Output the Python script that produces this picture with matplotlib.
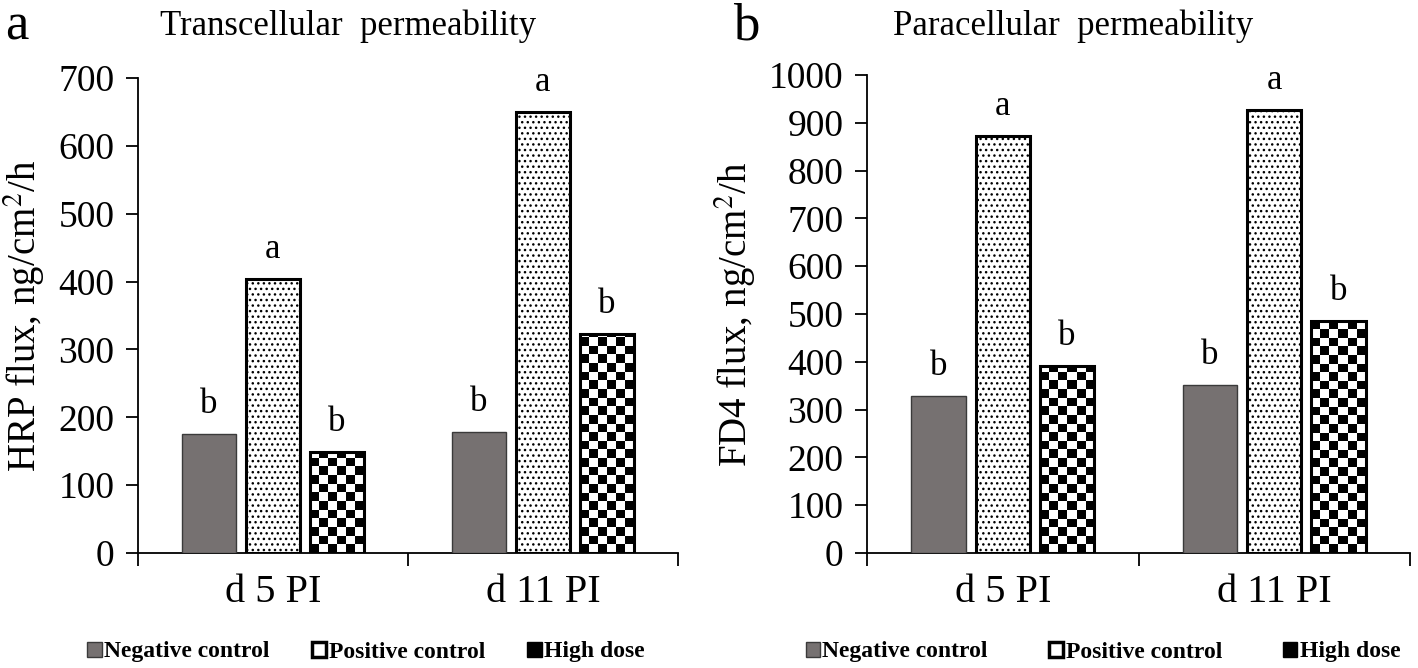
import matplotlib
matplotlib.use("Agg")
import matplotlib.pyplot as plt
from matplotlib.patches import Patch
import numpy as np

plt.rcParams["font.family"] = ["Liberation Serif", "DejaVu Serif"]
plt.rcParams["mathtext.fontset"] = "stix"

days = ["d 5 PI", "d 11 PI"]
groups = ["Negative control", "Positive control", "High dose"]

hrp_flux = {
    "Negative control": [176, 178],
    "Positive control": [404, 650],
    "High dose": [149, 323],
}
fd4_flux = {
    "Negative control": [329, 352],
    "Positive control": [873, 927],
    "High dose": [392, 485],
}
hrp_letters = {
    "Negative control": ["b", "b"],
    "Positive control": ["a", "a"],
    "High dose": ["b", "b"],
}
fd4_letters = {
    "Negative control": ["b", "b"],
    "Positive control": ["a", "a"],
    "High dose": ["b", "b"],
}

W, H = 1418, 668
fig = plt.figure(figsize=(W / 100, H / 100), dpi=100)

BAR_W = 0.2
OFFSETS = [-0.237, 0.0, 0.237]
CELL_PX = 8.6


def checker_fill(ax, bar):
    # checkerboard texture clipped to the bar
    x0, w, h = bar.get_x(), bar.get_width(), bar.get_height()
    (px0, py0), (px1, py1) = ax.transData.transform([(x0, 0), (x0 + w, h)])
    ncol = max(1, int(round((px1 - px0) / CELL_PX)))
    nrow = int(np.ceil((py1 - py0) / CELL_PX))
    dy = h / ((py1 - py0) / CELL_PX)
    grid = np.add.outer(np.arange(nrow), np.arange(ncol)) % 2
    img = ax.imshow(grid, cmap="gray", extent=(x0, x0 + w, 0, nrow * dy),
                    origin="lower", interpolation="nearest", aspect="auto",
                    zorder=2)
    img.set_clip_path(bar)


def panel(rect, data, letters, ymax, ylabel):
    ax = fig.add_axes(rect)
    ax.set_xlim(-0.5, 1.5)
    ax.set_ylim(0, ymax)
    x = np.arange(len(days))
    for g, off in zip(groups, OFFSETS):
        vals = data[g]
        if g == "Negative control":
            bars = ax.bar(x + off, vals, BAR_W, color="#767171",
                          edgecolor="#3a3a3a", linewidth=1, zorder=3)
        elif g == "Positive control":
            bars = ax.bar(x + off, vals, BAR_W, color="white",
                          edgecolor="black", linewidth=2.2, hatch="...",
                          zorder=3)
        else:
            bars = ax.bar(x + off, vals, BAR_W, color="none",
                          edgecolor="black", linewidth=2.2, zorder=3)
            for b in bars:
                checker_fill(ax, b)
        for b, lab in zip(bars, letters[g]):
            ax.annotate(lab, (b.get_x() + b.get_width() / 2, b.get_height()),
                        xytext=(0, 15), textcoords="offset points",
                        ha="center", va="baseline", fontsize=25)
    ax.set_xlim(-0.5, 1.5)
    ax.set_ylim(0, ymax)
    for s in ["top", "right"]:
        ax.spines[s].set_visible(False)
    for s in ["left", "bottom"]:
        ax.spines[s].set_linewidth(1.3)
    ax.set_yticks(np.arange(0, ymax + 1, 100))
    ax.tick_params(axis="y", length=9, width=1.3, pad=8, labelsize=27)
    ax.set_xticks([-0.5, 0.5, 1.5])
    ax.set_xticklabels([])
    ax.tick_params(axis="x", which="major", length=9, width=1.3)
    ax.set_xticks(x, minor=True)
    ax.set_xticklabels(days, minor=True)
    ax.tick_params(axis="x", which="minor", length=0, pad=15, labelsize=29)
    ax.set_ylabel(ylabel, fontsize=28, labelpad=8)
    return ax


panel([138 / W, 1 - 553 / H, 540 / W, 475 / H], hrp_flux, hrp_letters, 700,
      "HRP flux, ng/cm$^2$/h")
panel([867 / W, 1 - 553 / H, 543 / W, 478 / H], fd4_flux, fd4_letters, 1000,
      "FD4 flux, ng/cm$^2$/h")

fig.text(5 / W, 1 - 26 / H, "a", fontsize=38, va="center", ha="left")
fig.text(733 / W, 1 - 26 / H, "b", fontsize=38, va="center", ha="left")
fig.text(160 / W, 1 - 26 / H, "Transcellular  permeability", fontsize=25,
         va="center", ha="left")
fig.text(893 / W, 1 - 26 / H, "Paracellular  permeability", fontsize=25,
         va="center", ha="left")

handles = [
    Patch(facecolor="#767171", edgecolor="#3a3a3a", linewidth=1),
    Patch(facecolor="white", edgecolor="black", linewidth=2.5),
    Patch(facecolor="black", edgecolor="black", linewidth=1),
]
for cx, gap in [(366 / W, 1.8), (1103 / W, 2.6)]:
    fig.legend(handles, groups, loc="center", bbox_to_anchor=(cx, 1 - 652 / H),
               ncol=3, frameon=False, handlelength=0.6, handleheight=0.6,
               handletextpad=0.1, columnspacing=gap,
               prop={"weight": "bold", "size": 17})

fig.savefig("out.png", dpi=100)
